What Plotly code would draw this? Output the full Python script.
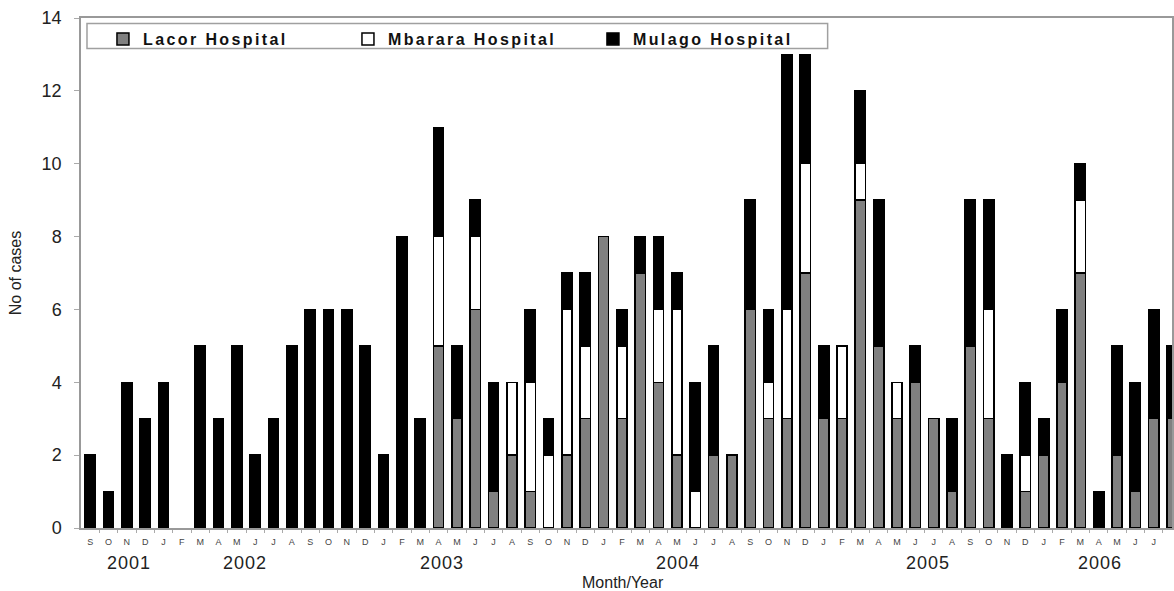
import plotly.graph_objects as go

months = ["S", "O", "N", "D",
          "J", "F", "M", "A", "M", "J", "J", "A", "S", "O", "N", "D",
          "J", "F", "M", "A", "M", "J", "J", "A", "S", "O", "N", "D",
          "J", "F", "M", "A", "M", "J", "J", "A", "S", "O", "N", "D",
          "J", "F", "M", "A", "M", "J", "J", "A", "S", "O", "N", "D",
          "J", "F", "M", "A", "M", "J", "J", "A"]

lacor = [0, 0, 0, 0,
         0, 0, 0, 0, 0, 0, 0, 0, 0, 0, 0, 0,
         0, 0, 0, 5, 3, 6, 1, 2, 1, 0, 2, 3,
         8, 3, 7, 4, 2, 0, 2, 2, 6, 3, 3, 7,
         3, 3, 9, 5, 3, 4, 3, 1, 5, 3, 0, 1,
         2, 4, 7, 0, 2, 1, 3, 3]

mbarara = [0, 0, 0, 0,
           0, 0, 0, 0, 0, 0, 0, 0, 0, 0, 0, 0,
           0, 0, 0, 3, 0, 2, 0, 2, 3, 2, 4, 2,
           0, 2, 0, 2, 4, 1, 0, 0, 0, 1, 3, 3,
           0, 2, 1, 0, 1, 0, 0, 0, 0, 3, 0, 1,
           0, 0, 2, 0, 0, 0, 0, 0]

mulago = [2, 1, 4, 3,
          4, 0, 5, 3, 5, 2, 3, 5, 6, 6, 6, 5,
          2, 8, 3, 3, 2, 1, 3, 0, 2, 1, 1, 2,
          0, 1, 1, 2, 1, 3, 3, 0, 3, 2, 7, 3,
          2, 0, 2, 4, 0, 1, 0, 2, 4, 3, 2, 2,
          1, 2, 1, 1, 3, 3, 3, 2]

years = ["2001", "2002", "2003", "2004", "2005", "2006"]
year_pos = [2.1, 8.44, 19.2, 32.06, 45.7, 55.1]

x = list(range(len(months)))
FONT = "Liberation Sans, Arial, sans-serif"

fig = go.Figure()
series = [("Lacor Hospital", lacor, "#808080"),
          ("Mbarara Hospital", mbarara, "#ffffff"),
          ("Mulago Hospital", mulago, "#000000")]
for name, vals, col in series:
    fig.add_trace(go.Bar(
        x=x, y=[v if v else None for v in vals],
        name='<span style="letter-spacing:2.4px"><b>' + name + '</b></span>',
        marker=dict(color=col, line=dict(color="#000000", width=1.5)),
        width=0.56,
    ))

for yr, pos in zip(years, year_pos):
    fig.add_annotation(x=pos, y=-0.069, xref="x", yref="paper",
                       text='<span style="letter-spacing:1px">' + yr + '</span>',
                       showarrow=False, yanchor="middle",
                       font=dict(family=FONT, size=18, color="#222"))
fig.add_annotation(x=0.497, y=-0.106, xref="paper", yref="paper", text="Month/Year",
                   showarrow=False, yanchor="middle",
                   font=dict(family=FONT, size=16, color="#222"))

# legend frame
fig.add_shape(type="rect", xref="paper", yref="paper",
              x0=(87 - 81) / 1093, x1=(829 - 81) / 1093,
              y0=(528 - 48.5) / 510, y1=(528 - 23.5) / 510,
              line=dict(color="#a0a0a0", width=1.5), fillcolor="white", layer="above")

fig.update_layout(
    barmode="stack",
    width=1174, height=591,
    margin=dict(l=81, r=0, t=18, b=63),
    plot_bgcolor="white", paper_bgcolor="white",
    font=dict(family=FONT, color="#222"),
    showlegend=True,
    legend=dict(
        orientation="h", x=(103 - 81) / 1093, y=(528 - 22) / 510,
        xanchor="left", yanchor="top",
        borderwidth=0, bgcolor="rgba(0,0,0,0)",
        font=dict(family=FONT, size=16, color="#111"),
        entrywidth=200, entrywidthmode="pixels",
        traceorder="normal",
    ),
    xaxis=dict(
        range=[-0.5, 59.0],
        tickvals=x, ticktext=months,
        tickfont=dict(family=FONT, size=9, color="#444"),
        ticks="", ticklen=0, ticklabelstandoff=4,
        showline=True, linecolor="#999", linewidth=1.5, mirror=True,
        showgrid=False, zeroline=False,
        minor=dict(tickvals=[i + 0.5 for i in x], ticks="outside", ticklen=3,
                   tickcolor="#aaa", showgrid=False),
    ),
    yaxis=dict(
        range=[0, 14], dtick=2,
        tickfont=dict(family=FONT, size=18, color="#222"),
        ticks="outside", ticklen=5, tickcolor="#aaa", ticklabelstandoff=9,
        showline=True, linecolor="#999", linewidth=1.5, mirror=True,
        showgrid=False, zeroline=False,
        title=dict(text="No of cases", font=dict(family=FONT, size=16, color="#222"), standoff=16),
    ),
)

fig.write_html("out.html")
